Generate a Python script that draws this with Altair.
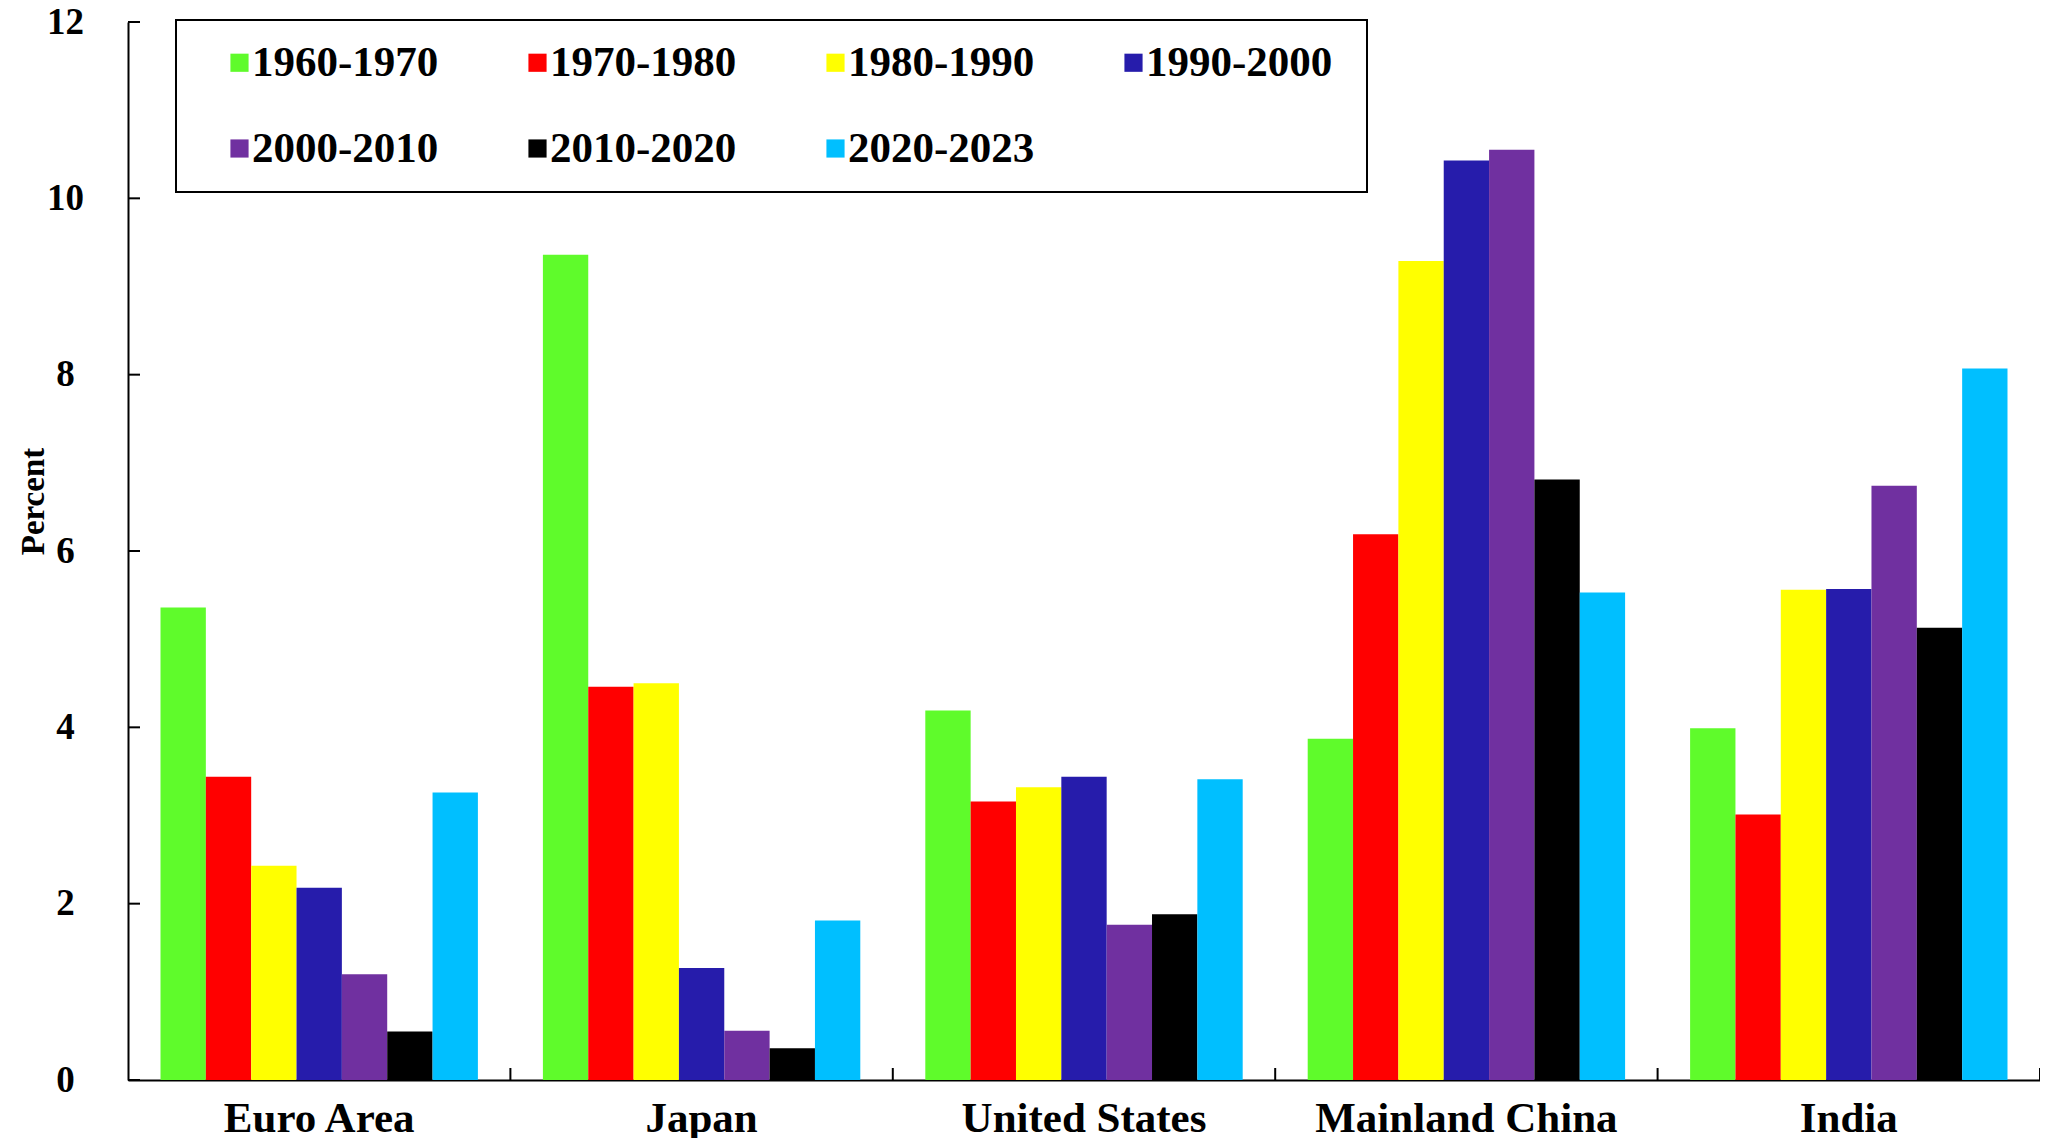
import altair as alt
import pandas as pd

countries = ["Euro Area", "Japan", "United States", "Mainland China", "India"]
periods = ["1960-1970", "1970-1980", "1980-1990", "1990-2000",
           "2000-2010", "2010-2020", "2020-2023"]
colors = ["#5FFB2B", "#FF0000", "#FFFF00", "#261CAB", "#7030A0", "#000000", "#00BFFF"]

euro_area = [5.36, 3.44, 2.43, 2.18, 1.20, 0.55, 3.26]
japan = [9.36, 4.46, 4.50, 1.27, 0.56, 0.36, 1.81]
united_states = [4.19, 3.16, 3.32, 3.44, 1.76, 1.88, 3.41]
mainland_china = [3.87, 6.19, 9.29, 10.43, 10.55, 6.81, 5.53]
india = [3.99, 3.01, 5.56, 5.57, 6.74, 5.13, 8.07]

y_ticks = [0, 2, 4, 6, 8, 10, 12]
x_boundaries = [1, 2, 3, 4, 5]

series = [euro_area, japan, united_states, mainland_china, india]
rows = []
for c, vals in zip(countries, series):
    for p, v in zip(periods, vals):
        rows.append({"country": c, "period": p, "value": v})
df = pd.DataFrame(rows)

W, H = 1912, 1058
FONT = "Liberation Serif"

y_axis = alt.Axis(title="Percent", values=y_ticks, grid=False, ticks=False, tickSize=0,
                  labelFont=FONT, labelFontSize=37, labelFontWeight="bold",
                  labelColor="black", labelAlign="center", labelPadding=63,
                  labelBaseline="middle",
                  domainColor="black", domainWidth=2,
                  titleFont=FONT, titleFontSize=33, titleFontWeight="bold",
                  titleColor="black", titleX=-95, titleY=479, titleAngle=270,
                  titleAlign="center", titleBaseline="middle")
y_scale = alt.Scale(domain=[0, 12], nice=False, zero=True)

bars = alt.Chart(df).mark_bar().encode(
    x=alt.X("country:N", sort=countries,
            scale=alt.Scale(paddingInner=0.17, paddingOuter=0.085),
            axis=alt.Axis(title=None, labelAngle=0, labelFont=FONT, labelFontSize=43,
                          labelFontWeight="bold", labelColor="black", labelPadding=17,
                          labelLimit=600,
                          ticks=False, tickSize=0, domainColor="black", domainWidth=2)),
    xOffset=alt.XOffset("period:N", sort=periods,
                        scale=alt.Scale(paddingInner=0, paddingOuter=0)),
    y=alt.Y("value:Q", scale=y_scale, axis=y_axis),
    color=alt.Color("period:N", sort=periods,
                    scale=alt.Scale(domain=periods, range=colors),
                    legend=alt.Legend(title="\u00a0", titleOrient="right", titlePadding=14,
                                      titleFontSize=2, titleColor="white",
                                      orient="none", legendX=48, legendY=-2,
                                      direction="horizontal",
                                      columns=4, columnPadding=56, rowPadding=42,
                                      gridAlign="all",
                                      symbolType="square", symbolSize=330,
                                      symbolStrokeWidth=0, symbolOffset=21,
                                      labelFont=FONT, labelFontSize=43,
                                      labelFontWeight="bold", labelColor="black",
                                      labelOffset={"expr": "-9"}, labelLimit=400,
                                      padding=21, strokeColor="black",
                                      fillColor="white")),
)

ytick_df = pd.DataFrame({"value": y_ticks})
yticks = alt.Chart(ytick_df).mark_rule(color="black", strokeWidth=2).encode(
    y=alt.Y("value:Q", scale=y_scale, axis=y_axis),
    x=alt.value(0), x2=alt.value(12),
)

xtick_df = pd.DataFrame({"pos": x_boundaries})
xticks = alt.Chart(xtick_df).mark_rule(color="black", strokeWidth=2).encode(
    x=alt.X("pos:Q", scale=alt.Scale(domain=[0, 5], nice=False, zero=True), axis=None),
    y=alt.value(H), y2=alt.value(H - 12),
)

chart = alt.layer(bars, yticks, xticks).resolve_scale(x="independent").properties(
    width=W, height=H,
    autosize=alt.AutoSizeParams(type="none"),
    padding={"left": 120, "top": 14, "right": 0, "bottom": 60},
).configure_view(stroke=None).configure_legend(strokeWidth=2)

chart.save("out.html", embed_options={"renderer": "svg", "actions": False})
